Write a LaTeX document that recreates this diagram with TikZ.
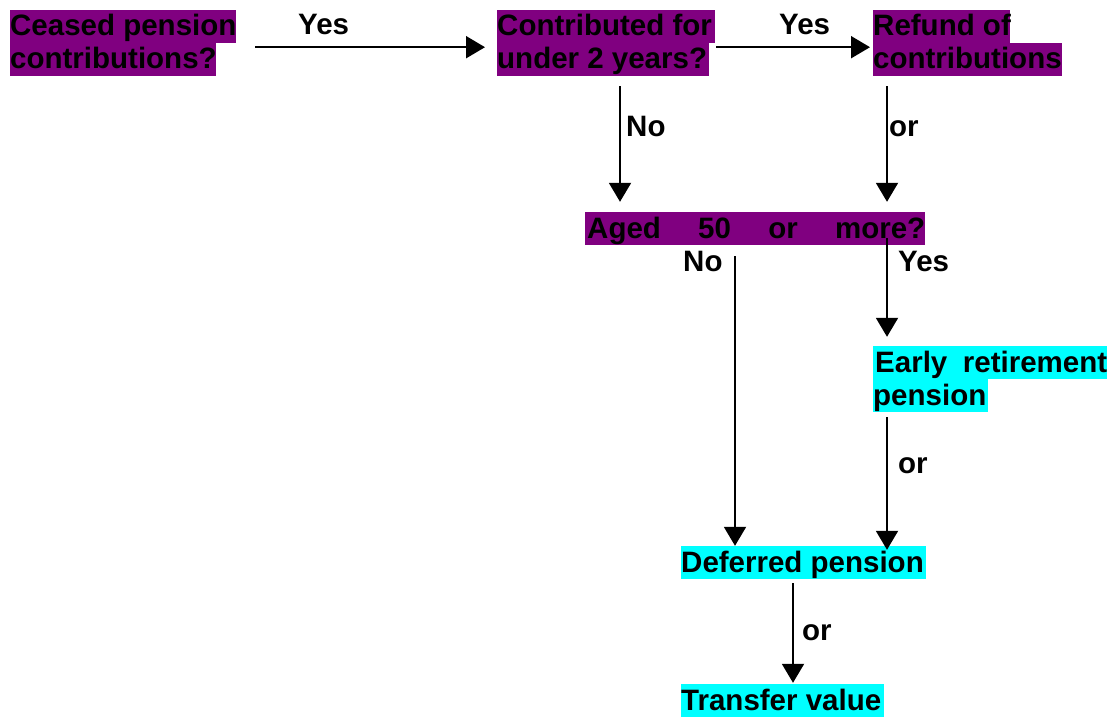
\documentclass[tikz,border=0pt]{standalone}
\usepackage{fontspec}
\setmainfont{Liberation Sans}
\usetikzlibrary{arrows.meta}
\definecolor{hlpurple}{RGB}{128,0,128}
\definecolor{hlcyan}{RGB}{0,255,255}
\tikzset{
  txt/.style={font=\fontsize{29.5}{33}\selectfont\bfseries},
  hl/.style={txt, inner sep=0pt, text height=26pt, text depth=7pt, anchor=base west},
  hlp/.style={hl, fill=hlpurple},
  hlc/.style={hl, fill=hlcyan},
  lbl/.style={txt, inner sep=0pt, anchor=base west},
  arr/.style={line width=2pt, -{Triangle[length=19pt,width=22pt]}}
}
\begin{document}
\begin{tikzpicture}[x=1pt,y=-1pt]
\useasboundingbox (0,0) rectangle (1114,717);
% boxes
\node[hlp] (n1a) at (10,36) {\makebox[226pt][l]{Ceased pension}};
\node[hlp] (n1b) at (10,69) {\makebox[206pt][l]{contributions?}};
\node[hlp] (n2a) at (497,36) {\makebox[218pt][l]{Contributed for}};
\node[hlp] (n2b) at (497,69) {\makebox[212pt][l]{under 2 years?}};
\node[hlp] (n3a) at (873,36) {\makebox[137pt][l]{Refund of}};
\node[hlp] (n3b) at (873,69) {\makebox[189pt][l]{contributions}};
\node[hlp] (n4) at (585,238) {\hspace{2pt}\makebox[338pt][s]{Aged 50 or more?}\hspace{1pt}};
\node[hlc] (n5a) at (873,372) {\hspace{2pt}\makebox[232pt][s]{Early retirement}\hspace{1pt}};
\node[hlc] (n5b) at (873,405) {\makebox[115pt][l]{pension}};
\node[hlc] (n6) at (681,572) {\makebox[245pt][l]{Deferred pension}};
\node[hlc] (n7) at (681,710) {\makebox[203pt][l]{Transfer value}};
% labels
\node[lbl] (l1) at (298,35) {Yes};
\node[lbl] (l2) at (779,35) {Yes};
\node[lbl] (l3) at (626,136) {No};
\node[lbl] (l4) at (889,136) {or};
\node[lbl] (l5) at (683,271) {No};
\node[lbl] (l6) at (898,271) {Yes};
\node[lbl] (l7) at (898,473) {or};
\node[lbl] (l8) at (802,640) {or};
% connector end points
\coordinate (sA) at ([xshift=123pt,yshift=-10pt]n2b.south west);
\coordinate (tA) at ([yshift=10pt]n4.north);
\coordinate (sB) at ([xshift=14pt,yshift=-10pt]n3b.south west);
\coordinate (sC) at ([xshift=150pt,yshift=-11pt]n4.south west);
\coordinate (tC) at (n6.north);
\coordinate (sD) at ([yshift=7pt]n4.south);
\coordinate (tD) at ([yshift=9pt]n5a.north);
\coordinate (sE) at ([yshift=-5pt]n5b.south);
\coordinate (tE) at ([yshift=-4pt]n6.north);
\coordinate (sF) at ([xshift=112pt,yshift=-4pt]n6.south west);
\coordinate (tF) at ([yshift=1pt]n7.north);
% connectors
\draw[arr] ([xshift=19pt,yshift=-4pt]n1a.south east) -- ([xshift=-12pt,yshift=-4pt]n2a.south west);
\draw[arr] ([xshift=1pt,yshift=-4pt]n2a.south east) -- ([xshift=-3pt,yshift=-4pt]n3a.south west);
\draw[arr] (sA) -- (sA |- tA);
\draw[arr] (sB) -- (sB |- tA);
\draw[arr] (sC) -- (sC |- tC);
\draw[arr] (sB |- sD) -- (sB |- tD);
\draw[arr] (sB |- sE) -- (sB |- tE);
\draw[arr] (sF) -- (sF |- tF);
\end{tikzpicture}
\end{document}
